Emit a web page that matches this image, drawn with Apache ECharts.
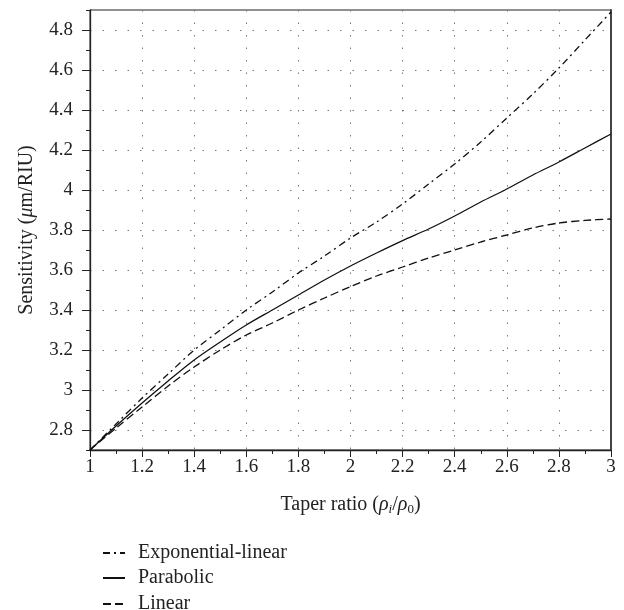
<!DOCTYPE html>
<html>
<head>
<meta charset="utf-8">
<script src="https://cdn.jsdelivr.net/npm/echarts@6/dist/echarts.min.js"></script>
<style>
  html, body { margin: 0; padding: 0; background: #fff; }
  #chart { width: 624px; height: 610px; }
</style>
</head>
<body>
<div id="chart"></div>
<script>
// Taper ratio samples
const taperRatio = [1.0, 1.1, 1.2, 1.3, 1.4, 1.5, 1.6, 1.7, 1.8, 1.9, 2.0,
                    2.1, 2.2, 2.3, 2.4, 2.5, 2.6, 2.7, 2.8, 2.9, 3.0];

// Sensitivity (um/RIU) for each taper profile
const expLinear = [2.70, 2.83, 2.96, 3.08, 3.20, 3.30, 3.40, 3.49, 3.585, 3.67, 3.76,
                   3.84, 3.93, 4.03, 4.13, 4.24, 4.36, 4.48, 4.61, 4.75, 4.89];
const parabolic = [2.70, 2.82, 2.935, 3.045, 3.15, 3.24, 3.325, 3.40, 3.475, 3.55, 3.62,
                   3.685, 3.747, 3.805, 3.87, 3.94, 4.005, 4.075, 4.14, 4.21, 4.28];
const linear = [2.70, 2.81, 2.915, 3.02, 3.115, 3.20, 3.275, 3.335, 3.40, 3.46, 3.517,
                3.57, 3.615, 3.66, 3.70, 3.74, 3.775, 3.81, 3.835, 3.848, 3.855];

const seriesNames = ['Exponential-linear', 'Parabolic', 'Linear'];

// Tick labels on the sensitivity axis
const yMajorTicks = [2.8, 3.0, 3.2, 3.4, 3.6, 3.8, 4.0, 4.2, 4.4, 4.6, 4.8];

const FONT = 'Liberation Serif';
const INK = '#222';
const GRID = '#777';
const dotted = [1.5, 11];
const TICK_FONT = 19;
const TEXT_FONT = 20;

function pairs(xs, ys) { return xs.map((x, i) => [x, ys[i]]); }

const chart = echarts.init(document.getElementById('chart'), null, { renderer: 'canvas' });

const lineSeries = (name, values, type) => ({
  name: name,
  type: 'line',
  data: pairs(taperRatio, values),
  symbol: 'none',
  smooth: 0.3,
  xAxisIndex: 0,
  yAxisIndex: 0,
  lineStyle: { color: '#111', width: 1.3, type: type },
  itemStyle: { color: '#111' },
  emphasis: { disabled: true },
  z: 5
});

// one single-entry legend per row, stacked under the plot
const legendRow = (name, top) => ({
  orient: 'vertical',
  left: 97, top: top,
  itemWidth: 22, itemHeight: 12,
  data: [name],
  itemStyle: { color: 'rgba(0,0,0,0)', borderWidth: 0, opacity: 0 },
  textStyle: { fontFamily: FONT, fontSize: TEXT_FONT, color: INK, padding: [0, 0, 0, 8] },
  selectedMode: false
});

chart.setOption({
  animation: false,
  backgroundColor: '#fff',
  textStyle: { fontFamily: FONT },
  grid: {
    left: 90, right: 13, top: 10, bottom: 160,
    show: true, borderColor: INK, borderWidth: 1, backgroundColor: 'transparent'
  },
  legend: [
    legendRow(seriesNames[0], 538),
    legendRow(seriesNames[1], 563),
    legendRow(seriesNames[2], 589)
  ],
  xAxis: {
    type: 'value',
    min: 1, max: 3, interval: 0.2,
    name: 'Taper ratio ({it|ρ}{subi|i}/{it|ρ}{sub|0})',
    nameLocation: 'middle',
    nameGap: 44,
    nameTextStyle: {
      fontFamily: FONT, fontSize: TEXT_FONT, color: INK,
      rich: {
        it: { fontFamily: FONT, fontSize: TEXT_FONT, fontStyle: 'italic', color: INK },
        subi: { fontFamily: FONT, fontSize: 13, fontStyle: 'italic', color: INK, verticalAlign: 'bottom', padding: [9, 0, 0, 0] },
        sub: { fontFamily: FONT, fontSize: 13, color: INK, verticalAlign: 'bottom', padding: [9, 0, 0, 0] }
      }
    },
    axisLine: { show: true, lineStyle: { color: INK, width: 1.3 } },
    axisTick: { show: true, inside: false, length: 7, lineStyle: { color: INK, width: 1 } },
    minorTick: { show: true, splitNumber: 2, length: 4, lineStyle: { color: INK, width: 1 } },
    axisLabel: { fontFamily: FONT, fontSize: TICK_FONT, color: INK, margin: 8 },
    splitLine: { show: true, lineStyle: { color: GRID, width: 1, type: dotted } }
  },
  yAxis: [
    {
      type: 'value',
      min: 2.7, max: 4.9, interval: 0.1,
      name: 'Sensitivity ({it|μ}m/RIU)',
      nameLocation: 'middle',
      nameGap: 53,
      nameTextStyle: {
        fontFamily: FONT, fontSize: TEXT_FONT, color: INK,
        rich: { it: { fontFamily: FONT, fontSize: TEXT_FONT, fontStyle: 'italic', color: INK } }
      },
      axisLine: { show: true, lineStyle: { color: INK, width: 1.3 } },
      axisTick: { show: true, inside: false, length: 4, lineStyle: { color: INK, width: 1 } },
      axisLabel: {
        fontFamily: FONT, fontSize: TICK_FONT, color: INK, margin: 17,
        customValues: yMajorTicks,
        formatter: v => String(Math.round(v * 10) / 10)
      },
      // every other 0.1 step carries a dotted grid line
      splitLine: { show: true, lineStyle: { color: ['rgba(0,0,0,0)', GRID], width: 1, type: dotted } }
    },
    {
      type: 'value',
      min: 2.7, max: 4.9,
      position: 'left',
      axisLine: { show: false },
      axisTick: { show: true, inside: false, length: 8, customValues: yMajorTicks, lineStyle: { color: INK, width: 1 } },
      axisLabel: { show: false },
      splitLine: { show: false }
    },
    {
      // right-hand frame edge, drawn a little heavier
      type: 'value',
      min: 2.7, max: 4.9,
      position: 'right',
      axisLine: { show: true, lineStyle: { color: '#444', width: 2 } },
      axisTick: { show: false },
      axisLabel: { show: false },
      splitLine: { show: false }
    }
  ],
  series: [
    lineSeries(seriesNames[0], expLinear, [7, 4, 2, 4]),
    lineSeries(seriesNames[1], parabolic, 'solid'),
    lineSeries(seriesNames[2], linear, [8, 4])
  ]
});
</script>
</body>
</html>
